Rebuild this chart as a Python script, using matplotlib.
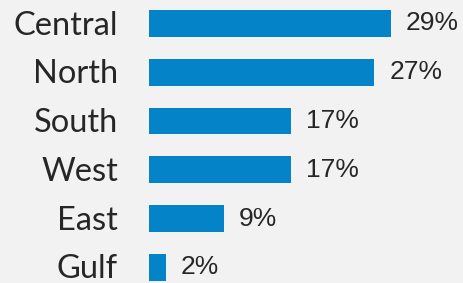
import matplotlib
matplotlib.use("Agg")
import matplotlib.pyplot as plt

regions = ["Central", "North", "South", "West", "East", "Gulf"]
shares = [29, 27, 17, 17, 9, 2]

bg = "#f2f2f2"
blue = "#0583c8"
ink = "#262626"

fig = plt.figure(figsize=(4.64, 2.83), dpi=100, facecolor=bg)
ax = fig.add_axes([149 / 464, 0, 1 - 149 / 464, 1], facecolor=bg)

pos = list(range(len(regions)))
ax.barh(pos, shares, height=0.553, color=blue)

ax.set_xlim(0, (464 - 149) / 8.34)
ax.set_ylim(5.32, -0.48)

for y, name, v in zip(pos, regions, shares):
    ax.annotate(name, (0, y), xytext=(-31 * 0.72, -1.5), textcoords="offset points",
                ha="right", va="center", fontsize=23.5, color=ink, family="Lato")
    ax.annotate(f"{v}%", (v, y), xytext=(15 * 0.72, 0), textcoords="offset points",
                ha="left", va="center", fontsize=19, color=ink, family="Liberation Sans")

ax.axis("off")

fig.savefig("out.png", dpi=100, facecolor=bg)
